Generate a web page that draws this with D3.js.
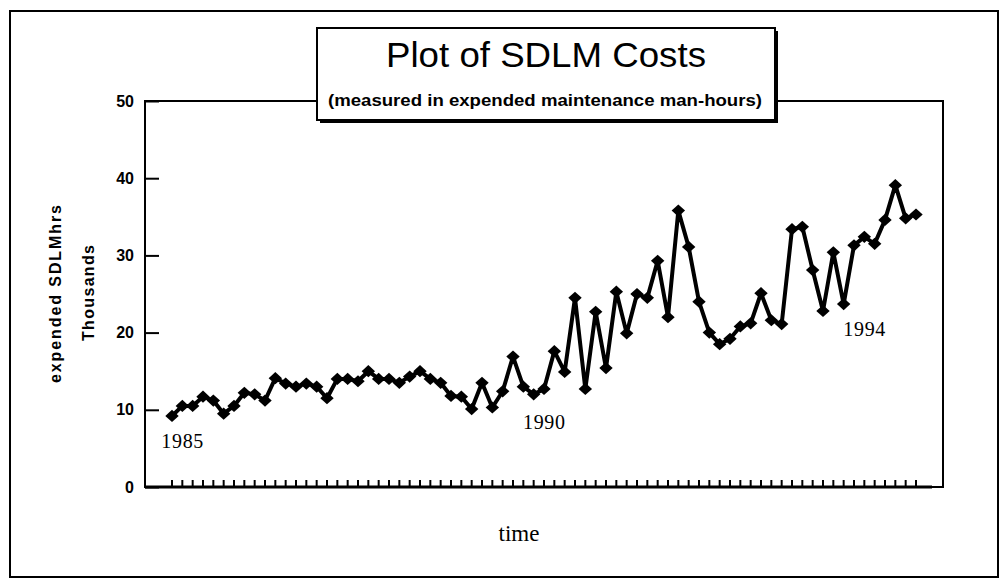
<!DOCTYPE html>
<html>
<head>
<meta charset="utf-8">
<script src="https://cdn.jsdelivr.net/npm/d3@7/dist/d3.min.js"></script>
<style>
  body { margin: 0; background: #fff; }
  svg { display: block; }
</style>
</head>
<body>
<div id="chart"></div>
<script>
// SDLM man-hours (thousands), one value per period
var costs = [9.2, 10.5, 10.5, 11.7, 11.2, 9.5, 10.5, 12.2, 12.0, 11.2,
             14.1, 13.4, 13.0, 13.4, 13.0, 11.5, 14.0, 14.0, 13.7, 15.0,
             14.0, 14.0, 13.5, 14.3, 15.0, 14.0, 13.5, 11.8, 11.7, 10.1,
             13.5, 10.3, 12.4, 16.9, 13.0, 12.0, 12.7, 17.6, 14.9, 24.5,
             12.7, 22.7, 15.4, 25.3, 19.9, 25.0, 24.5, 29.3, 22.0, 35.8,
             31.1, 24.0, 20.0, 18.5, 19.2, 20.8, 21.2, 25.1, 21.6, 21.1,
             33.4, 33.7, 28.1, 22.8, 30.4, 23.7, 31.3, 32.4, 31.5, 34.6,
             39.1, 34.8, 35.3]
var periods = costs.map(function(d, i){ return i })
var y_ticks = [0, 10, 20, 30, 40, 50]
// year notes written on the plot: [period index, value position, label]
var year_notes = [[1, 5.1, "1985"], [36, 7.5, "1990"], [67, 19.5, "1994"]]

var width = 1003, height = 579
var plot = {left: 145, right: 943, top: 101, bottom: 487}

var svg = d3.select("#chart")
  .append("svg")
  .attr("width", width)
  .attr("height", height)

// outer frame
svg.append("rect")
  .attr("x", 10).attr("y", 11)
  .attr("width", 988).attr("height", 566)
  .attr("fill", "none")
  .attr("stroke", "black")
  .attr("stroke-width", 2)

var x = d3.scaleLinear()
  .domain([0, periods.length - 1])
  .range([172, 916])

var y = d3.scaleLinear()
  .domain([0, 50])
  .range([plot.bottom, plot.top])

// plot frame
svg.append("rect")
  .attr("x", plot.left).attr("y", plot.top)
  .attr("width", plot.right - plot.left)
  .attr("height", plot.bottom - plot.top)
  .attr("fill", "none")
  .attr("stroke", "black")
  .attr("stroke-width", 2)

svg.append("line")
  .attr("x1", plot.left).attr("x2", 932)
  .attr("y1", plot.bottom).attr("y2", plot.bottom)
  .attr("stroke", "black")
  .attr("stroke-width", 3)

// y axis, ticks pointing inward
var yAxis = d3.axisRight(y)
  .tickValues(y_ticks)
  .tickSize(14)
  .tickFormat(d3.format("d"))

var ga = svg.append("g")
  .attr("transform", "translate(" + plot.left + ",0)")
  .call(yAxis)
ga.select(".domain").remove()
ga.selectAll(".tick line").attr("stroke-width", 2)
ga.selectAll(".tick text")
  .attr("x", -11)
  .attr("text-anchor", "end")
  .attr("font-family", "Liberation Sans, Arial, sans-serif")
  .attr("font-weight", "bold")
  .attr("font-size", 16)
  .attr("fill", "black")

// x ticks, one per period
svg.selectAll(".xtick")
  .data(periods)
  .enter()
  .append("line")
  .attr("class", "xtick")
  .attr("x1", function(d){ return x(d) })
  .attr("x2", function(d){ return x(d) })
  .attr("y1", plot.bottom)
  .attr("y2", plot.bottom - 7)
  .attr("stroke", "black")
  .attr("stroke-width", 2)

// series line
var line = d3.line()
  .x(function(d, i){ return x(i) })
  .y(function(d){ return y(d) })

svg.append("path")
  .datum(costs)
  .attr("d", line)
  .attr("fill", "none")
  .attr("stroke", "black")
  .attr("stroke-width", 4)
  .attr("stroke-linejoin", "round")

svg.selectAll(".dot")
  .data(costs)
  .enter()
  .append("path")
  .attr("class", "dot")
  .attr("d", d3.symbol().type(d3.symbolDiamond2).size(95))
  .attr("transform", function(d, i){
    return "translate(" + x(i) + "," + y(d) + ") scale(1.1,1)"
  })
  .attr("fill", "black")

// year annotations
svg.selectAll(".year")
  .data(year_notes)
  .enter()
  .append("text")
  .attr("class", "year")
  .attr("x", function(d){ return x(d[0]) })
  .attr("y", function(d){ return y(d[1]) })
  .attr("text-anchor", "middle")
  .attr("font-family", "Liberation Serif, Times New Roman, serif")
  .attr("font-size", 20)
  .attr("textLength", 42)
  .text(function(d){ return d[2] })

// title box with drop shadow
svg.append("rect")
  .attr("x", 320).attr("y", 31)
  .attr("width", 458).attr("height", 92)
  .attr("fill", "black")
svg.append("rect")
  .attr("x", 317).attr("y", 28)
  .attr("width", 458).attr("height", 92)
  .attr("fill", "white")
  .attr("stroke", "black")
  .attr("stroke-width", 2)

svg.append("text")
  .attr("x", 546).attr("y", 67)
  .attr("text-anchor", "middle")
  .attr("font-family", "Liberation Sans, Arial, sans-serif")
  .attr("font-size", 35)
  .attr("textLength", 320)
  .attr("lengthAdjust", "spacingAndGlyphs")
  .text("Plot of SDLM Costs")

svg.append("text")
  .attr("x", 545).attr("y", 106)
  .attr("text-anchor", "middle")
  .attr("font-family", "Liberation Sans, Arial, sans-serif")
  .attr("font-size", 16)
  .attr("font-weight", "bold")
  .attr("textLength", 434)
  .attr("lengthAdjust", "spacingAndGlyphs")
  .text("(measured in expended maintenance man-hours)")

// axis titles
svg.append("text")
  .attr("transform", "translate(61,294) rotate(-90)")
  .attr("text-anchor", "middle")
  .attr("font-family", "Liberation Sans, Arial, sans-serif")
  .attr("font-size", 16)
  .attr("font-weight", "bold")
  .attr("textLength", 178)
  .attr("lengthAdjust", "spacing")
  .text("expended SDLMhrs")

svg.append("text")
  .attr("transform", "translate(94,293) rotate(-90)")
  .attr("text-anchor", "middle")
  .attr("font-family", "Liberation Sans, Arial, sans-serif")
  .attr("font-size", 16)
  .attr("font-weight", "bold")
  .attr("textLength", 96)
  .attr("lengthAdjust", "spacing")
  .text("Thousands")

svg.append("text")
  .attr("x", 519).attr("y", 541)
  .attr("text-anchor", "middle")
  .attr("font-family", "Liberation Serif, Times New Roman, serif")
  .attr("font-size", 23)
  .text("time")
</script>
</body>
</html>
